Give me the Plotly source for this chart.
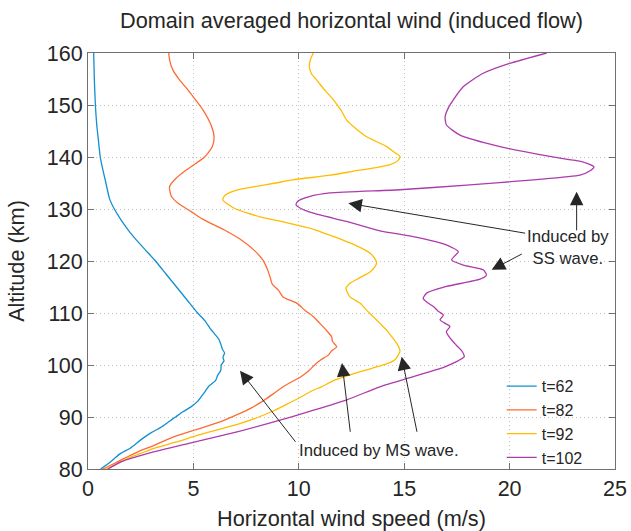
import plotly.graph_objects as go

# Altitude (km) / domain-averaged horizontal wind speed (m/s) profiles
alt_62 = [80, 81, 82, 83, 84, 85.6, 87, 88, 89, 90, 91, 92, 93, 94.6, 96, 97, 98, 99,
          100, 100.8, 101.5, 102.3, 103, 104, 105, 106, 107, 108.5, 110, 112.5, 115,
          117.5, 120, 122, 124, 126, 128, 130, 132, 135, 138, 140, 143, 146, 150, 155, 160]
u_62 = [0.6, 0.95, 1.25, 1.55, 2.0, 2.5, 3.0, 3.45, 3.8, 4.15, 4.5, 4.9, 5.2, 5.5, 5.75,
        6.05, 6.15, 6.3, 6.32, 6.45, 6.4, 6.48, 6.38, 6.3, 6.2, 6.0, 5.8, 5.55, 5.2, 4.7,
        4.2, 3.7, 3.2, 2.75, 2.3, 1.9, 1.55, 1.25, 1.02, 0.85, 0.68, 0.58, 0.5, 0.42, 0.35,
        0.3, 0.27]

alt_82 = [80, 81.1, 82, 83.3, 84.5, 86, 87.5, 89.1, 90.5, 91.7, 93.3, 94.5, 96, 97.75, 99,
          100, 101, 101.9, 102.7, 103.5, 104.5, 105.4, 106.7, 108, 109.3, 110.5, 111.9,
          113.1, 114.4, 115.5, 117, 118.5, 120.2, 122, 124, 126, 128, 129.5, 131.1, 132.5,
          134.3, 136, 137.5, 140, 142, 143.9, 146, 149, 151, 152.9, 154.8, 156.7, 158.5, 160]
u_82 = [0.7, 1.27, 1.7, 2.37, 3.1, 3.94, 5.06, 6.3, 7.1, 7.73, 8.38, 8.8, 9.33, 10.1, 10.5,
        10.75, 11.05, 11.4, 11.55, 11.8, 11.6, 11.56, 11.3, 11.0, 10.7, 10.3, 9.9, 9.25,
        9.03, 8.75, 8.63, 8.5, 8.29, 7.9, 7.29, 6.45, 5.46, 4.9, 4.27, 3.95, 3.87, 4.2,
        4.66, 5.53, 5.9, 5.98, 5.85, 5.46, 5.1, 4.74, 4.35, 4.03, 3.88, 3.83]

alt_92 = [80, 81, 82.1, 83, 84, 85.2, 86.5, 87.7, 88.8, 90, 91.3, 92.6, 93.9, 95, 95.8,
          97.1, 98.4, 99.4, 100.3, 101, 101.8, 102.6, 103.4, 104.2, 105.5, 106.7, 108,
          109.3, 110.6, 111.9, 113.1, 114.7, 115.7, 116.8, 117.9, 118.8, 119.6, 120.5,
          121.5, 122.8, 124, 125.2, 126.3, 127.4, 128.5, 129.3, 130.1, 131, 131.7, 132.4,
          133.0, 133.7, 134.3, 135.0, 135.6, 136.5, 137.2, 138.5, 139.3, 140.1, 141, 142,
          143.9, 145.5, 147.1, 149, 151, 153, 154.8, 156, 157.4, 158.7, 160]
u_92 = [0.85, 1.4, 1.9, 2.5, 3.16, 4.2, 5.22, 6.3, 7.27, 8.1, 8.86, 9.5, 10.12, 10.6, 11.07,
        11.7, 12.65, 13.5, 14.23, 14.56, 14.7, 14.8, 14.75, 14.64, 14.4, 14.17, 13.85,
        13.53, 13.2, 12.9, 12.43, 12.24, 12.43, 12.9, 13.38, 13.6, 13.69, 13.6, 13.38,
        12.8, 12.1, 11.3, 10.53, 9.4, 8.16, 7.5, 6.96, 6.6, 6.4, 6.45, 6.64, 7.1, 7.9,
        8.9, 9.7, 11.5, 12.5, 14.3, 14.7, 14.8, 14.5, 14.17, 13.22, 12.7, 12.27, 12.0,
        11.64, 11.2, 10.85, 10.6, 10.5, 10.55, 10.69]

alt_102 = [80, 81.4, 83, 84.9, 87.2, 89.1, 91.3, 93.3, 95.8, 97.75, 99.6, 100.5, 101.6,
           102.6, 103.7, 104.8, 105.6, 106.4, 107.4, 108.1, 108.7, 109.6, 110.4, 111.2,
           112.0, 112.8, 113.8, 115.1, 116.5, 117.3, 118.3, 119.2, 120.2, 121.0, 121.8,
           123.1, 124.7, 125.8, 127.6, 129.2, 130.1, 130.8, 131.5, 132.4, 133.1, 133.7,
           134.6, 135.6, 136.5, 137.3, 138.1, 139.1, 140.1, 142, 144.2, 146.2, 147.75,
           149.5, 151, 153.5, 156.1, 158, 160]
u_102 = [0.95, 1.58, 2.85, 4.74, 7.12, 8.86, 10.7, 12.27, 13.85, 15.43, 16.9, 17.4, 17.85,
         17.75, 17.5, 17.25, 17.1, 17.0, 17.17, 16.9, 16.7, 16.86, 16.6, 16.4, 16.1, 15.9,
         16.06, 17.0, 18.6, 18.9, 18.75, 17.8, 17.25, 17.4, 17.57, 17.0, 15.43, 13.85,
         12.27, 10.69, 10.1, 9.87, 9.95, 10.5, 11.48, 14.8, 17.96, 21.13, 23.34, 23.8,
         24.0, 23.42, 21.9, 19.54, 17.65, 17.0, 16.94, 17.1, 17.33, 17.8, 18.75, 20.0, 21.76]

series = [
    ("t=62", u_62, alt_62, "#128fcf"),
    ("t=82", u_82, alt_82, "#ff6a33"),
    ("t=92", u_92, alt_92, "#ffbb00"),
    ("t=102", u_102, alt_102, "#ac3cac"),
]

x_ticks = [0, 5, 10, 15, 20, 25]
y_ticks = [80, 90, 100, 110, 120, 130, 140, 150, 160]

# Arrow annotations: (head_x, head_y, tail_x, tail_y)
ms_arrows = [(7.21, 98.9, 9.9, 84.94), (12.05, 100.4, 12.45, 86.87), (14.88, 101.6, 15.62, 86.87)]
ss_arrows = [(12.35, 131.1, 20.81, 125.3), (19.15, 118.3, 20.65, 121.5), (23.18, 133.3, 23.18, 125.6)]

FONT = "Liberation Sans, Arial, Helvetica, sans-serif"
TXT = "#262626"
AX = "#707070"

fig = go.Figure()
for name, u, z, color in series:
    fig.add_trace(go.Scatter(x=u, y=z, name=name, mode="lines",
                             line=dict(color=color, width=1.3, shape="spline", smoothing=0.6)))

for hx, hy, tx, ty in ms_arrows + ss_arrows:
    fig.add_annotation(x=hx, y=hy, ax=tx, ay=ty, xref="x", yref="y", axref="x", ayref="y",
                       text="", showarrow=True, arrowhead=2, arrowsize=2.7, arrowwidth=1,
                       arrowcolor=TXT)

fig.add_annotation(x=13.8, y=83.6, xref="x", yref="y", text="Induced by MS wave.",
                   showarrow=False, font=dict(family=FONT, size=16.7, color=TXT))
fig.add_annotation(x=22.75, y=122.6, xref="x", yref="y", text="Induced by<br>SS wave.",
                   showarrow=False, align="center", font=dict(family=FONT, size=16.7, color=TXT))

axis_common = dict(showline=True, linecolor=AX, linewidth=1, mirror="ticks",
                   ticks="inside", ticklen=6, tickcolor=AX, showgrid=True,
                   gridcolor="#c2c2c2", griddash="1px,3px", gridwidth=1, zeroline=False,
                   automargin=False, tickfont=dict(family=FONT, size=21.5, color=TXT))

fig.update_layout(
    width=631, height=531,
    margin=dict(l=88, r=16, t=53, b=62),
    paper_bgcolor="white", plot_bgcolor="white",
    title=dict(text="Domain averaged horizontal wind (induced flow)", x=0.557, xanchor="center",
               y=0.962, yanchor="middle", font=dict(family=FONT, size=21.7, color=TXT)),
    xaxis=dict(range=[0, 25], tickvals=x_ticks, title=dict(text="Horizontal wind speed (m/s)",
               font=dict(family=FONT, size=21.7, color=TXT), standoff=16), **axis_common),
    yaxis=dict(range=[80, 160], tickvals=y_ticks, title=dict(text="Altitude (km)",
               font=dict(family=FONT, size=21.7, color=TXT), standoff=16), **axis_common),
    legend=dict(x=0.785, y=0.24, xanchor="left", yanchor="top", bgcolor="rgba(0,0,0,0)",
                font=dict(family=FONT, size=16, color=TXT), tracegroupgap=0),
    showlegend=True,
)

fig.write_html("out.html")
